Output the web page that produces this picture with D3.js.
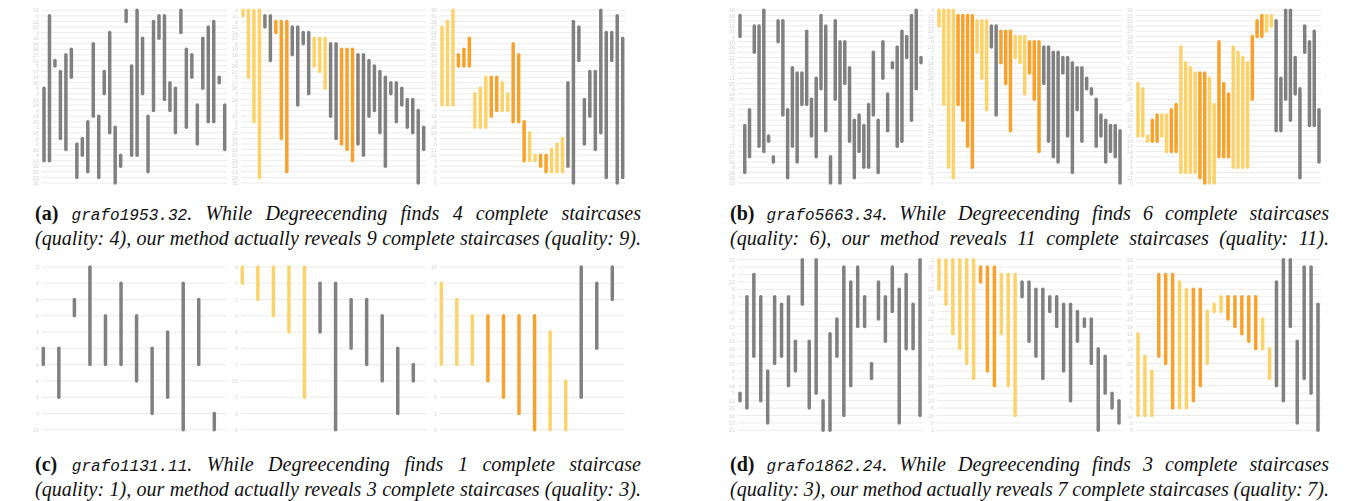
<!DOCTYPE html>
<html>
<head>
<meta charset="utf-8">
<script src="https://cdn.jsdelivr.net/npm/d3@7"></script>
<style>body{margin:0;background:#fff;}</style>
</head>
<body>
<script>
// row labels, top to bottom, for each small chart
const rowsA1 = [11, 9, 22, 21, 3, 16, 26, 28, 27, 12, 5, 17, 18, 30, 8, 7, 13, 24, 0, 19, 10, 1, 15, 6, 2, 20, 4, 14, 29, 25, 23, 31];
const rowsA2 = [4, 11, 9, 22, 14, 10, 8, 19, 18, 3, 26, 27, 5, 17, 30, 7, 24, 0, 1, 15, 6, 2, 20, 16, 25, 23, 21, 28, 12, 13, 29, 31];
const rowsA3 = [30, 31, 28, 27, 24, 21, 26, 25, 20, 19, 17, 14, 15, 13, 16, 12, 10, 8, 7, 18, 9, 29, 23, 5, 6, 11, 22, 3, 4, 2, 1, 0];
const rowsB1 = [16, 19, 13, 12, 31, 4, 10, 26, 21, 22, 15, 6, 3, 11, 25, 9, 14, 30, 0, 23, 20, 1, 18, 7, 2, 5, 17, 28, 27, 24, 8, 29, 32, 33];
const rowsB2 = [4, 15, 19, 12, 13, 14, 0, 21, 7, 2, 18, 16, 23, 28, 31, 29, 6, 3, 5, 30, 20, 1, 26, 22, 17, 25, 27, 24, 33, 10, 11, 32, 8, 9];
const rowsB3 = [31, 21, 25, 24, 27, 19, 26, 33, 30, 17, 3, 12, 22, 32, 16, 6, 23, 28, 1, 2, 29, 20, 18, 7, 15, 10, 13, 14, 9, 5, 4, 8, 11, 0];
const rowsC1 = [2, 5, 8, 0, 3, 1, 4, 6, 9, 7, 10];
const rowsC2 = [4, 0, 1, 5, 8, 9, 7, 10, 2, 3, 6];
const rowsC3 = [10, 9, 7, 4, 6, 3, 1, 8, 5, 2, 0];
const rowsD1 = [15, 5, 9, 22, 8, 2, 7, 20, 6, 13, 0, 12, 19, 16, 10, 4, 1, 14, 3, 11, 21, 18, 17, 23];
const rowsD2 = [2, 15, 5, 7, 12, 16, 11, 9, 22, 6, 13, 19, 10, 4, 14, 3, 21, 18, 17, 23, 8, 20, 0, 1];
const rowsD3 = [22, 17, 15, 19, 16, 2, 23, 11, 21, 14, 13, 10, 18, 3, 20, 4, 9, 8, 6, 7, 5, 12, 1, 0];

// bars: [first row, last row, colour]  g = grey, y = light yellow, o = orange
const barsA1 = [[14,27,"g"],[1,27,"g"],[9,10,"g"],[11,23,"g"],[8,25,"g"],[7,12,"g"],[24,30,"g"],[23,26,"g"],[20,29,"g"],[6,19,"g"],[19,30,"g"],[11,15,"g"],[4,22,"g"],[21,31,"g"],[26,28,"g"],[0,2,"g"],[10,26,"g"],[0,26,"g"],[5,15,"g"],[19,29,"g"],[2,18,"g"],[1,5,"g"],[1,16,"g"],[13,18,"g"],[14,22,"g"],[0,4,"g"],[7,21,"g"],[8,12,"g"],[17,24,"g"],[5,14,"g"],[3,20,"g"],[2,20,"g"],[12,13,"g"],[17,25,"g"]];
const barsA2 = [[0,1,"y"],[0,12,"y"],[0,20,"y"],[0,30,"y"],[1,3,"g"],[1,9,"g"],[2,4,"o"],[2,23,"o"],[2,29,"o"],[3,8,"g"],[3,17,"g"],[4,6,"g"],[4,15,"g"],[5,10,"y"],[5,11,"y"],[5,14,"y"],[6,19,"g"],[6,23,"g"],[7,24,"o"],[7,25,"o"],[7,27,"o"],[8,24,"g"],[8,26,"g"],[9,19,"g"],[10,18,"g"],[11,22,"g"],[12,28,"g"],[13,15,"g"],[13,20,"g"],[14,17,"g"],[16,21,"g"],[16,22,"g"],[18,31,"g"],[21,25,"g"]];
const barsA3 = [[3,17,"y"],[2,17,"y"],[0,17,"y"],[8,10,"o"],[7,10,"o"],[5,10,"o"],[15,21,"y"],[14,21,"y"],[12,21,"y"],[12,19,"o"],[12,18,"o"],[13,18,"y"],[15,18,"y"],[6,20,"o"],[8,20,"o"],[20,27,"o"],[22,27,"y"],[26,27,"y"],[26,28,"o"],[26,29,"o"],[25,29,"y"],[24,29,"y"],[23,29,"y"],[13,28,"g"],[2,31,"g"],[3,9,"g"],[16,24,"g"],[11,19,"g"],[11,25,"g"],[0,22,"g"],[4,30,"g"],[4,9,"g"],[1,31,"g"],[5,30,"g"]];
const barsB1 = [[1,5,"g"],[22,31,"g"],[19,28,"g"],[3,8,"g"],[3,26,"g"],[0,27,"g"],[24,25,"g"],[28,29,"g"],[2,6,"g"],[2,20,"g"],[19,32,"g"],[11,26,"g"],[12,29,"g"],[12,18,"g"],[4,18,"g"],[17,24,"g"],[13,28,"g"],[1,15,"g"],[3,23,"g"],[28,33,"g"],[2,17,"g"],[6,33,"g"],[6,14,"g"],[11,25,"g"],[21,32,"g"],[20,27,"g"],[22,30,"g"],[18,30,"g"],[8,20,"g"],[21,31,"g"],[6,13,"g"],[16,23,"g"],[10,11,"g"],[7,26,"g"],[4,25,"g"],[5,9,"g"],[1,21,"g"],[0,15,"g"],[9,10,"g"]];
const barsB2 = [[0,3,"y"],[0,18,"y"],[0,30,"y"],[0,32,"y"],[1,18,"o"],[1,21,"o"],[1,26,"o"],[1,30,"o"],[2,8,"y"],[2,13,"y"],[2,19,"y"],[3,7,"g"],[3,20,"g"],[4,10,"o"],[4,14,"o"],[4,23,"o"],[5,9,"y"],[5,10,"y"],[5,16,"y"],[6,12,"o"],[6,17,"o"],[6,27,"o"],[7,14,"g"],[7,25,"g"],[8,28,"g"],[8,29,"g"],[9,12,"g"],[9,24,"g"],[10,31,"g"],[11,19,"g"],[11,25,"g"],[13,15,"g"],[15,16,"g"],[17,26,"g"],[20,24,"g"],[21,29,"g"],[22,27,"g"],[22,28,"g"],[23,33,"g"]];
const barsB3 = [[14,24,"y"],[15,24,"y"],[24,25,"y"],[21,25,"o"],[20,25,"o"],[20,24,"y"],[20,27,"y"],[19,27,"o"],[18,27,"o"],[7,31,"y"],[10,31,"y"],[11,31,"y"],[12,31,"y"],[12,32,"o"],[12,33,"o"],[13,33,"y"],[18,33,"y"],[6,28,"o"],[14,28,"o"],[16,28,"o"],[7,30,"y"],[8,30,"y"],[9,30,"y"],[10,30,"y"],[5,17,"o"],[2,5,"o"],[1,5,"o"],[1,4,"y"],[1,3,"y"],[2,23,"g"],[13,23,"g"],[0,17,"g"],[0,21,"g"],[9,16,"g"],[15,32,"g"],[3,8,"g"],[6,22,"g"],[4,22,"g"],[19,29,"g"]];
const barsC1 = [[5,6,"g"],[5,8,"g"],[2,3,"g"],[0,6,"g"],[3,6,"g"],[1,6,"g"],[3,7,"g"],[5,9,"g"],[4,8,"g"],[1,10,"g"],[2,6,"g"],[9,10,"g"]];
const barsC2 = [[0,1,"y"],[0,2,"y"],[0,3,"y"],[0,4,"y"],[0,8,"y"],[1,4,"g"],[1,10,"g"],[2,5,"g"],[2,6,"g"],[3,7,"g"],[5,9,"g"],[6,7,"g"]];
const barsC3 = [[1,6,"y"],[2,6,"y"],[3,6,"y"],[3,7,"o"],[3,8,"o"],[3,9,"o"],[3,10,"o"],[4,10,"y"],[7,10,"y"],[0,8,"g"],[1,5,"g"],[0,2,"g"]];
const barsD1 = [[18,19,"g"],[5,20,"g"],[2,13,"g"],[5,19,"g"],[15,22,"g"],[5,14,"g"],[6,13,"g"],[5,17,"g"],[11,15,"g"],[0,6,"g"],[11,20,"g"],[0,18,"g"],[19,23,"g"],[10,23,"g"],[8,13,"g"],[1,21,"g"],[3,17,"g"],[1,9,"g"],[5,9,"g"],[14,16,"g"],[3,8,"g"],[5,11,"g"],[1,7,"g"],[4,22,"g"],[2,12,"g"],[6,12,"g"],[0,21,"g"]];
const barsD2 = [[0,4,"y"],[0,6,"y"],[0,10,"y"],[0,12,"y"],[0,14,"y"],[0,16,"y"],[1,3,"o"],[1,15,"o"],[1,17,"o"],[2,10,"y"],[2,17,"y"],[2,21,"y"],[3,5,"g"],[3,11,"g"],[4,13,"g"],[4,16,"g"],[5,7,"g"],[5,9,"g"],[6,15,"g"],[6,19,"g"],[7,11,"g"],[8,9,"g"],[8,14,"g"],[12,23,"g"],[13,18,"g"],[18,20,"g"],[19,22,"g"]];
const barsD3 = [[10,21,"y"],[13,21,"y"],[15,21,"y"],[2,13,"o"],[2,14,"o"],[2,20,"o"],[3,20,"y"],[4,20,"y"],[4,19,"o"],[4,17,"o"],[7,14,"y"],[6,7,"y"],[5,7,"y"],[5,8,"o"],[5,9,"o"],[5,10,"o"],[5,11,"o"],[5,12,"o"],[8,12,"y"],[12,16,"y"],[3,17,"g"],[0,19,"g"],[0,9,"g"],[11,22,"g"],[1,16,"g"],[1,18,"g"],[6,23,"g"]];

const captions = [
  {x0: 35, x1: 641, y: 220, lines: ["(a) grafo1953.32. While Degreecending finds 4 complete staircases",
    "(quality: 4), our method actually reveals 9 complete staircases (quality: 9)."]},
  {x0: 730, x1: 1329, y: 220, lines: ["(b) grafo5663.34. While Degreecending finds 6 complete staircases",
    "(quality: 6), our method reveals 11 complete staircases (quality: 11)."]},
  {x0: 35, x1: 641, y: 471, lines: ["(c) grafo1131.11. While Degreecending finds 1 complete staircase",
    "(quality: 1), our method actually reveals 3 complete staircases (quality: 3)."]},
  {x0: 730, x1: 1329, y: 471, lines: ["(d) grafo1862.24. While Degreecending finds 3 complete staircases",
    "(quality: 3), our method actually reveals 7 complete staircases (quality: 7)."]}
];

const width = 1362, height = 501;
const colour = {g: "#808080", y: "#fcd36b", o: "#f6a22c"};

const svg = d3.select("body").append("svg")
  .attr("width", width)
  .attr("height", height);

// top row charts (a, b) and bottom row charts (c, d)
const charts = [
  {rows: rowsA1, bars: barsA1, ox: 30, top: 10.3, bottom: 183, x0: 14, x1: 194.7},
  {rows: rowsA2, bars: barsA2, ox: 229, top: 10.3, bottom: 183, x0: 14, x1: 194.7},
  {rows: rowsA3, bars: barsA3, ox: 428, top: 10.3, bottom: 183, x0: 14, x1: 194.7},
  {rows: rowsB1, bars: barsB1, ox: 726, top: 10.3, bottom: 183, x0: 14, x1: 195},
  {rows: rowsB2, bars: barsB2, ox: 925, top: 10.3, bottom: 183, x0: 14, x1: 195},
  {rows: rowsB3, bars: barsB3, ox: 1124, top: 10.3, bottom: 183, x0: 14, x1: 195},
  {rows: rowsC1, bars: barsC1, ox: 30, top: 267, bottom: 429.7, x0: 13.3, x1: 184.3},
  {rows: rowsC2, bars: barsC2, ox: 229, top: 267, bottom: 429.7, x0: 13.3, x1: 184.3},
  {rows: rowsC3, bars: barsC3, ox: 428, top: 267, bottom: 429.7, x0: 13.3, x1: 184.3},
  {rows: rowsD1, bars: barsD1, ox: 726, top: 259.7, bottom: 430.3, x0: 14, x1: 194},
  {rows: rowsD2, bars: barsD2, ox: 925, top: 259.7, bottom: 430.3, x0: 14, x1: 194},
  {rows: rowsD3, bars: barsD3, ox: 1124, top: 259.7, bottom: 430.3, x0: 14, x1: 194}
];

charts.forEach(c => {
  let g = svg.append("g").attr("transform", "translate(" + c.ox + ",0)");

  let yScale = d3.scalePoint()
    .domain(d3.range(c.rows.length))
    .range([c.top, c.bottom]);

  let xScale = d3.scalePoint()
    .domain(d3.range(c.bars.length))
    .range([c.x0, c.x1]);

  g.selectAll("line.grid")
    .data(yScale.domain())
    .join("line")
    .attr("class", "grid")
    .attr("x1", 12)
    .attr("x2", 197)
    .attr("y1", d => yScale(d))
    .attr("y2", d => yScale(d))
    .attr("stroke", "#ebebeb")
    .attr("stroke-width", 1);

  let yAxis = d3.axisLeft(yScale)
    .tickSize(0)
    .tickPadding(0)
    .tickFormat(i => c.rows[i]);

  g.append("g")
    .attr("transform", "translate(9,0)")
    .call(yAxis)
    .call(a => a.select(".domain").remove())
    .attr("font-family", "DejaVu Sans")
    .attr("font-size", 5)
    .selectAll("text")
    .attr("fill", "#d2d2d2");

  g.selectAll("line.bar")
    .data(c.bars)
    .join("line")
    .attr("class", "bar")
    .attr("x1", (d, i) => xScale(i))
    .attr("x2", (d, i) => xScale(i))
    .attr("y1", d => yScale(d[0]))
    .attr("y2", d => yScale(d[1]))
    .attr("stroke", d => colour[d[2]])
    .attr("stroke-width", 3.5)
    .attr("stroke-linecap", "round");
});

// caption font size: fit the longest plain line at normal word spacing
let probe = svg.append("text")
  .attr("font-family", "Liberation Serif")
  .attr("font-style", "italic")
  .attr("font-size", 20)
  .text(captions[0].lines[1]);
const fs = 20 * (captions[0].x1 - captions[0].x0) / probe.node().getComputedTextLength() * 0.995;
probe.remove();

function drawLine(str, x0, x1, yb) {
  let words = str.split(" ");
  let nodes = words.map((w, i) => {
    let t = svg.append("text").attr("y", yb).attr("font-size", fs).attr("fill", "#111");
    if (i === 0 && /^\([a-d]\)$/.test(w)) {
      t.attr("font-family", "Liberation Serif").attr("font-weight", "bold").text(w);
    } else if (w.startsWith("grafo")) {
      t.append("tspan").attr("font-family", "Liberation Mono").attr("font-style", "italic")
        .attr("font-size", fs * 0.8).text(w.replace(/\.$/, ""));
      t.append("tspan").attr("font-family", "Liberation Serif").attr("font-style", "italic").text(".");
    } else {
      t.attr("font-family", "Liberation Serif").attr("font-style", "italic").text(w);
    }
    return t;
  });
  let widths = nodes.map(t => t.node().getComputedTextLength());
  let gap = (x1 - x0 - d3.sum(widths)) / (words.length - 1);
  let x = x0;
  nodes.forEach((t, i) => {
    t.attr("x", x);
    x += widths[i] + gap;
  });
}

captions.forEach(c => {
  c.lines.forEach((l, i) => drawLine(l, c.x0, c.x1, c.y + i * 24.5));
});
</script>
</body>
</html>
